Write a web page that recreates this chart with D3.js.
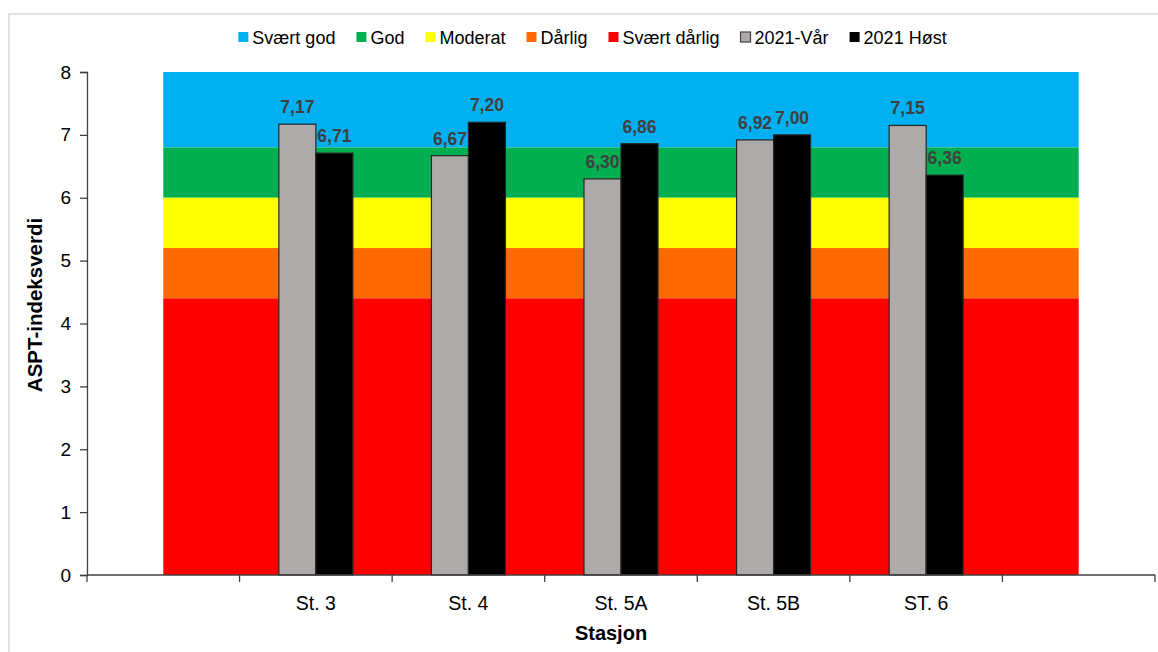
<!DOCTYPE html>
<html>
<head>
<meta charset="utf-8">
<script src="https://cdn.jsdelivr.net/npm/d3@7"></script>
<style>
  html, body { margin: 0; padding: 0; background: #fff; }
  svg { display: block; font-family: "Liberation Sans", Arial, sans-serif; }
</style>
</head>
<body>
<svg id="chart" width="1158" height="652"></svg>
<script>
// Category slots along the x axis (empty slots pad both ends)
const categories = ["", "St. 3", "St. 4", "St. 5A", "St. 5B", "ST. 6", ""];
// ASPT index values per station
const springValues = [null, 7.17, 6.67, 6.30, 6.92, 7.15, null];
const autumnValues = [null, 6.71, 7.20, 6.86, 7.00, 6.36, null];
const seriesNames = ["2021-Vår", "2021 Høst"];
// Condition classes: [lower, upper] limits of the ASPT index
const classNames = ["Svært god", "God", "Moderat", "Dårlig", "Svært dårlig"];
const classLimits = [[6.8, 8], [6.0, 6.8], [5.2, 6.0], [4.4, 5.2], [0, 4.4]];
const classColors = ["#00B0F0", "#00B050", "#FFFF00", "#FF6A00", "#FF0000"];
const seriesColors = ["#AEAAAA", "#000000"];
const yTicks = [0, 1, 2, 3, 4, 5, 6, 7, 8];

const svg = d3.select("#chart");
const plot = { left: 87, right: 1155, top: 72, bottom: 575 };

// chart frame
svg.append("rect")
  .attr("x", 9).attr("y", 14).attr("width", 1170).attr("height", 660)
  .attr("fill", "none").attr("stroke", "#d9d9d9").attr("stroke-width", 1.5);

const idx = categories.map((d, i) => i);
const x = d3.scaleBand().domain(idx).range([plot.left, plot.right]).padding(0);
const y = d3.scaleLinear().domain([0, 8]).range([plot.bottom, plot.top]);
const bw = x.bandwidth();

// background class bands spanning from the first to the last slot centre
const bandX0 = x(idx[0]) + bw / 2;
const bandX1 = x(idx[idx.length - 1]) + bw / 2;
svg.append("g").selectAll("rect")
  .data(classLimits)
  .join("rect")
  .attr("x", bandX0)
  .attr("width", bandX1 - bandX0)
  .attr("y", d => y(d[1]))
  .attr("height", d => y(d[0]) - y(d[1]))
  .attr("fill", (d, i) => classColors[i]);

// grouped bars
const inner = d3.scaleBand().domain([0, 1]).range([0, bw * 0.485]);
const groupOffset = (bw - bw * 0.485) / 2;
const rows = [];
idx.forEach(i => {
  [springValues[i], autumnValues[i]].forEach((v, s) => {
    if (v != null) rows.push({ i, s, v });
  });
});

const bars = svg.append("g");
bars.selectAll("rect")
  .data(rows)
  .join("rect")
  .attr("x", d => x(d.i) + groupOffset + inner(d.s))
  .attr("width", inner.bandwidth())
  .attr("y", d => y(d.v))
  .attr("height", d => y(0) - y(d.v))
  .attr("fill", d => seriesColors[d.s])
  .attr("stroke", "#262626")
  .attr("stroke-width", 1.2);

// value labels
const fmt = v => d3.format(".2f")(v).replace(".", ",");
svg.append("g").selectAll("text")
  .data(rows)
  .join("text")
  .attr("x", d => x(d.i) + groupOffset + inner(d.s) + inner.bandwidth() / 2)
  .attr("y", d => y(d.v) - 11)
  .attr("text-anchor", "middle")
  .attr("font-size", 17.5)
  .attr("font-weight", "bold")
  .attr("fill", "#404040")
  .text(d => fmt(d.v));

// y axis
const yAxis = svg.append("g")
  .attr("transform", `translate(${plot.left},0)`)
  .call(d3.axisLeft(y).tickValues(yTicks).tickSize(7).tickPadding(9).tickFormat(d3.format("d")));
yAxis.selectAll("text").attr("font-size", 19).attr("fill", "#000").attr("font-family", "Liberation Sans, Arial, sans-serif");
yAxis.selectAll("line, path").attr("stroke", "#404040").attr("stroke-width", 1.3);

// x axis with ticks on slot boundaries
const boundaries = idx.map(i => x(i)).concat([plot.right]);
const xAxis = svg.append("g");
xAxis.append("line")
  .attr("x1", plot.left).attr("x2", plot.right)
  .attr("y1", plot.bottom).attr("y2", plot.bottom)
  .attr("stroke", "#404040").attr("stroke-width", 1.3);
xAxis.selectAll("line.tick")
  .data(boundaries)
  .join("line")
  .attr("class", "tick")
  .attr("x1", d => d).attr("x2", d => d)
  .attr("y1", plot.bottom).attr("y2", plot.bottom + 7)
  .attr("stroke", "#404040").attr("stroke-width", 1.3);
xAxis.selectAll("text")
  .data(idx)
  .join("text")
  .attr("x", i => x(i) + bw / 2)
  .attr("y", plot.bottom + 35)
  .attr("text-anchor", "middle")
  .attr("font-size", 19.5)
  .attr("fill", "#000")
  .text(i => categories[i]);

// axis titles
svg.append("text")
  .attr("transform", "translate(42,305) rotate(-90)")
  .attr("text-anchor", "middle")
  .attr("font-size", 20.5)
  .attr("font-weight", "bold")
  .text("ASPT-indeksverdi");
svg.append("text")
  .attr("x", 611).attr("y", 640)
  .attr("text-anchor", "middle")
  .attr("font-size", 20)
  .attr("font-weight", "bold")
  .text("Stasjon");

// legend
const legendItems = classNames.map((n, i) => ({ name: n, color: classColors[i], outline: false }))
  .concat(seriesNames.map((n, i) => ({ name: n, color: seriesColors[i], outline: i === 0 })));
const legend = svg.append("g");
let cx = 0;
const items = legend.selectAll("g")
  .data(legendItems)
  .join("g");
items.append("rect")
  .attr("width", 10).attr("height", 10)
  .attr("y", -5)
  .attr("fill", d => d.color)
  .attr("stroke", d => d.outline ? "#404040" : "none")
  .attr("stroke-width", 1.2);
items.append("text")
  .attr("x", 14)
  .attr("y", 6.5)
  .attr("font-size", 18)
  .attr("fill", "#000")
  .text(d => d.name);
items.each(function () {
  const g = d3.select(this);
  const w = 14 + g.select("text").node().getComputedTextLength();
  g.attr("data-x", cx);
  cx += w + 21;
});
const totalW = cx - 21;
const startX = 592.5 - totalW / 2;
items.attr("transform", function () {
  return `translate(${startX + (+this.getAttribute("data-x"))},37)`;
});
</script>
</body>
</html>
